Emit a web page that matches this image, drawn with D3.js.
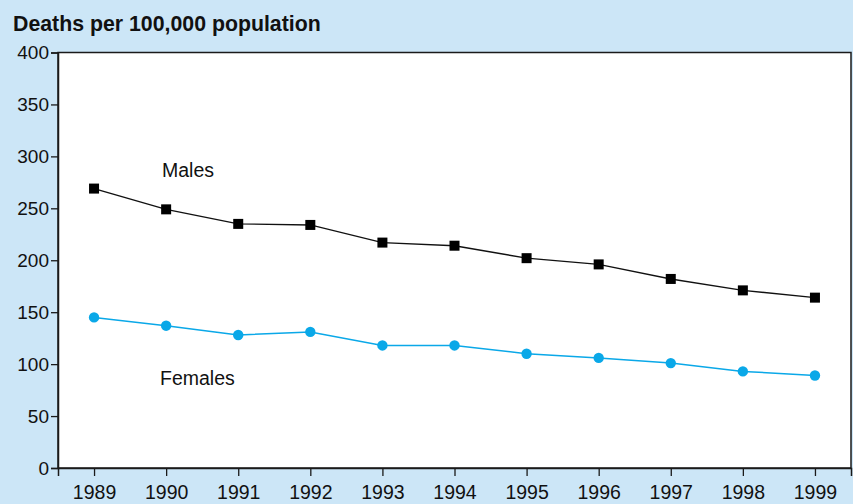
<!DOCTYPE html>
<html><head><meta charset="utf-8">
<script src="https://cdn.jsdelivr.net/npm/d3@7"></script>
<style>
html,body{margin:0;padding:0;background:#cce6f7;}
svg{display:block;font-family:"Liberation Sans",Arial,sans-serif;}
</style></head>
<body>
<svg id="chart" width="853" height="504"></svg>
<script>
const years = [1989,1990,1991,1992,1993,1994,1995,1996,1997,1998,1999];
const males = [269,249,235,234,217,214,202,196,182,171,164];
const females = [145,137,128,131,118,118,110,106,101,93,89];
const yTicks = [0,50,100,150,200,250,300,350,400];
const title = "Deaths per 100,000 population";
const seriesLabels = ["Males","Females"];

const W = 853, H = 504;
const m = {left:58, right:2, top:52.5, bottom:36};
const svg = d3.select("#chart");
svg.append("rect").attr("width",W).attr("height",H).attr("fill","#cce6f7");

const x = d3.scalePoint().domain(years).range([m.left, W - m.right]).padding(0.5);
const y = d3.scaleLinear().domain([0,400]).range([H - m.bottom, m.top]);

svg.append("rect").attr("x",m.left).attr("y",m.top)
  .attr("width",W - m.right - m.left).attr("height",H - m.bottom - m.top)
  .attr("fill","#fff").attr("stroke","#1a1a1a").attr("stroke-width",1.5);

const yAxis = svg.append("g").attr("transform",`translate(${m.left},0)`)
  .call(d3.axisLeft(y).tickValues(yTicks).tickSize(7).tickPadding(2));
const xAxis = svg.append("g").attr("transform",`translate(0,${H - m.bottom})`)
  .call(d3.axisBottom(x).tickValues(years).tickSize(8).tickPadding(9.5).tickFormat(d3.format("d")));
[yAxis,xAxis].forEach(g=>{
  g.select(".domain").attr("stroke","#1a1a1a").attr("stroke-width",1.5);
  g.selectAll(".tick line").attr("stroke","#1a1a1a").attr("stroke-width",1.3);
  g.selectAll("text").attr("fill","#111").style("font-size","19px").style("font-family","'Liberation Sans',Arial,sans-serif");
});
xAxis.selectAll("text").style("font-size","19.5px");

svg.append("text").attr("x",13).attr("y",31).text(title)
  .attr("font-weight","bold").attr("font-size","21.3px").attr("fill","#111");

const line = d3.line().x((d,i)=>x(years[i])).y(d=>y(d));
svg.append("path").datum(males).attr("d",line).attr("fill","none").attr("stroke","#111").attr("stroke-width",1.4);
svg.append("path").datum(females).attr("d",line).attr("fill","none").attr("stroke","#0aa8e8").attr("stroke-width",1.5);

svg.selectAll(".msq").data(males).enter().append("rect")
  .attr("x",(d,i)=>x(years[i])-5).attr("y",d=>y(d)-5).attr("width",10).attr("height",10).attr("fill","#000");
svg.selectAll(".fc").data(females).enter().append("circle")
  .attr("cx",(d,i)=>x(years[i])).attr("cy",d=>y(d)).attr("r",5.2).attr("fill","#0aa8e8");

svg.append("text").attr("x",162).attr("y",177).text(seriesLabels[0]).attr("font-size","19.5px").attr("fill","#111");
svg.append("text").attr("x",160).attr("y",385).text(seriesLabels[1]).attr("font-size","19.5px").attr("fill","#111");
</script>
</body></html>
